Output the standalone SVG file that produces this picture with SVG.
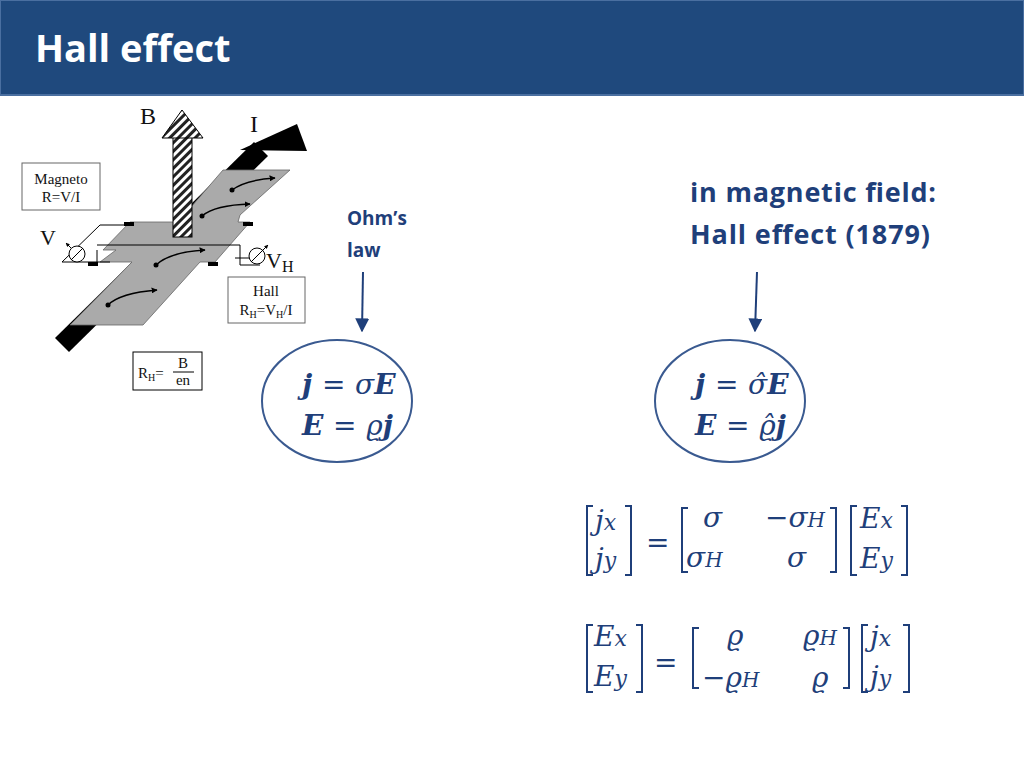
<svg xmlns="http://www.w3.org/2000/svg" width="1024" height="768" viewBox="0 0 1024 768">
<defs>
<pattern id="hatch" width="6" height="6" patternUnits="userSpaceOnUse" patternTransform="rotate(45)"><rect width="6" height="6" fill="#fff"/><rect width="3" height="6" fill="#222"/></pattern>
<marker id="ah" viewBox="0 0 10 10" refX="9" refY="5" markerWidth="7" markerHeight="7" orient="auto"><path d="M0,0L10,5L0,10z" fill="#1f3f7a"/></marker>
<marker id="sa" viewBox="0 0 10 10" refX="9" refY="5" markerWidth="4" markerHeight="4" orient="auto"><path d="M0,0L10,5L0,10z" fill="#000"/></marker>
<style>
.m{font-family:"DejaVu Serif",serif;font-style:italic;font-weight:normal;fill:#1f3f7a;font-size:28px}
.mb{font-family:"DejaVu Serif",serif;font-style:italic;font-weight:bold;fill:#1f3f7a;font-size:28px}
.b{font-family:"Open Sans","Liberation Sans",sans-serif;font-weight:bold;fill:#1f3f7a}
.s{font-family:"Liberation Serif",serif;fill:#111}
.br{fill:none;stroke:#1f3f7a;stroke-width:2}
.curl{fill:none;stroke:#000;stroke-width:1.5;marker-end:url(#sa)}
</style>
</defs>
<rect width="1024" height="768" fill="#fff"/>
<g id="header"><rect x="0" y="0" width="1024" height="95" fill="#1f497d" stroke="#4a6fa0" stroke-width="2"/>
<text x="35" y="62" font-family="'Open Sans','Liberation Sans',sans-serif" font-weight="bold" font-size="38" fill="#fff">Hall effect</text></g>
<g id="figure">
<polygon points="55,338 69,352 268,156 254,142" fill="#000"/>
<polygon points="240,150 297,124 307,151" fill="#000"/>
<polygon points="223,170 290,170 240,215 238,222 250,222 215,262 200,262 143,325 70,325 132,262 100,262 116,250 103,250 130,222 178,222" fill="#aaa" stroke="#666" stroke-width="0.8"/>
<rect x="173" y="137" width="19" height="100" fill="url(#hatch)" stroke="#000"/>
<polygon points="162,138 182,110 203,138" fill="url(#hatch)" stroke="#000"/>
<g fill="none" stroke="#000" stroke-width="1">
<path d="M130,225 H100 L62,262 H110"/><path d="M97,250 V262"/><path d="M97,245 H240 V265 H260"/><path d="M235,258 H255"/>
<circle cx="77" cy="254" r="8" fill="#fff"/><path d="M71,260 L83,248"/><path d="M71,248 L66,243" marker-end="url(#sa)"/>
<circle cx="257" cy="256" r="8" fill="#fff"/><path d="M251,262 L263,250 L268,245" marker-end="url(#sa)"/>
</g>
<rect x="124" y="222" width="10" height="4" fill="#000"/><rect x="243" y="222" width="10" height="4" fill="#000"/>
<rect x="88" y="262" width="10" height="4" fill="#000"/><rect x="208" y="262" width="10" height="4" fill="#000"/>
<path class="curl" d="M232,190 Q245,180 275,178"/><path class="curl" d="M202,216 Q215,205 250,204"/>
<path class="curl" d="M156,265 Q170,252 205,250"/><path class="curl" d="M108,305 Q120,293 157,290"/>
<g fill="#000"><circle cx="232" cy="190" r="2.5"/><circle cx="202" cy="216" r="2.5"/><circle cx="156" cy="265" r="2.5"/><circle cx="108" cy="305" r="2.5"/></g>
<text class="s" x="140" y="124" style="font-size:24px">B</text><text class="s" x="250" y="132" style="font-size:24px">I</text>
<text class="s" x="40" y="245" style="font-size:22px">V</text><text class="s" x="266" y="268" style="font-size:22px">V<tspan style="font-size:16px" dy="4">H</tspan></text>
<rect x="22" y="163" width="78" height="47" fill="#fff" stroke="#666"/>
<text class="s" x="61" y="184" text-anchor="middle" style="font-size:15px">Magneto</text><text class="s" x="61" y="202" text-anchor="middle" style="font-size:15px">R=V/I</text>
<rect x="228" y="277" width="77" height="46" fill="#fff" stroke="#666"/>
<text class="s" x="266" y="296" text-anchor="middle" style="font-size:15px">Hall</text><text class="s" x="266" y="315" text-anchor="middle" style="font-size:15px">R<tspan style="font-size:10px" dy="3">H</tspan><tspan dy="-3">=V</tspan><tspan style="font-size:10px" dy="3">H</tspan><tspan dy="-3">/I</tspan></text>
<rect x="133" y="352" width="69" height="38" fill="#fff" stroke="#000"/>
<text class="s" x="138" y="378" style="font-size:15px">R<tspan style="font-size:10px" dy="3">H</tspan><tspan dy="-3">=</tspan></text>
<text class="s" x="183" y="368" text-anchor="middle" style="font-size:15px">B</text><line x1="173" y1="372" x2="194" y2="372" stroke="#000"/><text class="s" x="183" y="385" text-anchor="middle" style="font-size:15px">en</text>
</g>
<g id="ohm-label"><text class="b" x="347" y="225" font-size="19">Ohm’s</text><text class="b" x="347" y="257" font-size="19">law</text></g>
<g id="hall-label"><text class="b" x="690" y="202" font-size="27" textLength="246">in magnetic field:</text><text class="b" x="690" y="244" font-size="27" textLength="240">Hall effect (1879)</text></g>
<g id="connectors" stroke="#1f3f7a" stroke-width="2" marker-end="url(#ah)">
<line x1="363" y1="272" x2="362" y2="331"/><line x1="757" y1="272" x2="755" y2="331"/>
</g>
<g id="ohm-eq"><ellipse cx="337" cy="401" rx="75" ry="61" fill="#fff" stroke="#3a5a90" stroke-width="2"/>
<text class="mb" x="302" y="394">j <tspan class="m" font-style="normal">=</tspan> <tspan class="m">σ</tspan>E</text>
<text class="mb" x="302" y="435">E <tspan class="m" font-style="normal">=</tspan> <tspan class="m">ϱ</tspan>j</text></g>
<g id="hall-eq"><ellipse cx="730" cy="401" rx="75" ry="61" fill="#fff" stroke="#3a5a90" stroke-width="2"/>
<text class="mb" x="695" y="394">j <tspan class="m" font-style="normal">=</tspan> <tspan class="m">σ̂</tspan>E</text>
<text class="mb" x="695" y="435">E <tspan class="m" font-style="normal">=</tspan> <tspan class="m">ϱ̂</tspan>j</text></g>
<g id="matrix1">
<path class="br" d="M593,506 H587 V575 H593"/><path class="br" d="M625,506 H631 V575 H625"/>
<text class="m" x="595" y="530">j<tspan style="font-size:22px">x</tspan></text><text class="m" x="595" y="568">j<tspan style="font-size:22px">y</tspan></text>
<text class="m" x="646" y="552" font-style="normal">=</text>
<path class="br" d="M688,508 H682 V572 H688"/><path class="br" d="M830,508 H836 V572 H830"/>
<text class="m" x="703" y="527">σ</text><text class="m" x="765" y="527" style="font-style:normal">−<tspan style="font-style:italic">σ</tspan><tspan style="font-style:italic;font-size:20px">H</tspan></text>
<text class="m" x="686" y="567">σ<tspan style="font-size:20px">H</tspan></text><text class="m" x="787" y="567">σ</text>
<path class="br" d="M857,506 H851 V575 H857"/><path class="br" d="M901,506 H907 V575 H901"/>
<text class="m" x="860" y="528">E<tspan style="font-size:22px">x</tspan></text><text class="m" x="860" y="568">E<tspan style="font-size:22px">y</tspan></text>
</g>
<g id="matrix2">
<path class="br" d="M593,625 H587 V692 H593"/><path class="br" d="M636,625 H642 V692 H636"/>
<text class="m" x="594" y="646">E<tspan style="font-size:22px">x</tspan></text><text class="m" x="594" y="686">E<tspan style="font-size:22px">y</tspan></text>
<text class="m" x="654" y="672" style="font-style:normal">=</text>
<path class="br" d="M699,628 H693 V688 H699"/><path class="br" d="M843,628 H849 V688 H843"/>
<text class="m" x="727" y="645">ϱ</text><text class="m" x="803" y="645">ϱ<tspan style="font-size:20px">H</tspan></text>
<text class="m" x="702" y="687" style="font-style:normal">−<tspan style="font-style:italic">ϱ</tspan><tspan style="font-style:italic;font-size:20px">H</tspan></text><text class="m" x="812" y="687">ϱ</text>
<path class="br" d="M868,625 H862 V692 H868"/><path class="br" d="M903,625 H909 V692 H903"/>
<text class="m" x="870" y="646">j<tspan style="font-size:22px">x</tspan></text><text class="m" x="870" y="686">j<tspan style="font-size:22px">y</tspan></text>
</g>
</svg>
